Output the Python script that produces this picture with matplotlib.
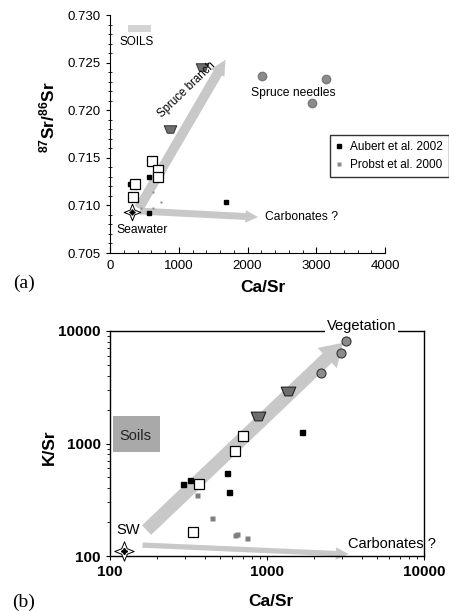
import numpy as np
import matplotlib
matplotlib.use("Agg")
import matplotlib.pyplot as plt
from matplotlib.path import Path
from matplotlib.patches import Rectangle
from matplotlib.ticker import MultipleLocator, FixedLocator, NullFormatter

plt.rcParams['font.family'] = ['Liberation Sans', 'DejaVu Sans']
plt.rcParams['mathtext.fontset'] = 'custom'
plt.rcParams['mathtext.rm'] = 'Liberation Sans'
plt.rcParams['mathtext.bf'] = 'Liberation Sans:bold'

# ---- panel (a) : 87Sr/86Sr vs Ca/Sr ----
a_open_x = [615, 692, 692, 364, 330]
a_open_y = [0.71466, 0.71372, 0.71302, 0.71222, 0.71092]
a_branch_x = [1343, 873]
a_branch_y = [0.72457, 0.71799]
a_needles_x = [2206, 3142, 2943]
a_needles_y = [0.72359, 0.72331, 0.72079]
a_aubert_x = [291, 571, 571, 1692]
a_aubert_y = [0.71222, 0.71302, 0.70917, 0.71036]
a_probst_x = [630, 742, 630, 445]
a_probst_y = [0.71138, 0.71040, 0.70970, 0.70970]
a_sw_x = [323]
a_sw_y = [0.70933]
a_branch_arrow = [(420, 0.7097), (1680, 0.7253)]
a_carb_arrow = [(436, 0.70940), (2153, 0.70877)]

# ---- panel (b) : K/Sr vs Ca/Sr ----
b_open_x = [700, 625, 369, 336]
b_open_y = [1166, 863, 436, 164]
b_branch_x = [1368, 881]
b_branch_y = [2950, 1753]
b_veg_x = [3170, 2945, 2200]
b_veg_y = [8150, 6340, 4260]
b_aubert_x = [290, 325, 558, 573, 1679]
b_aubert_y = [433, 474, 550, 373, 1260]
b_probst_x = [357, 444, 625, 647, 743]
b_probst_y = [348, 216, 154, 157, 146]
b_sw_x = [122]
b_sw_y = [111]
b_veg_arrow = [(171, 170), (3060, 7870)]
b_carb_arrow = [(161, 125), (3300, 104)]

# marker shapes
trap = Path([(-1, 0.6), (1, 0.6), (0.5, -0.6), (-0.5, -0.6), (-1, 0.6)],
            [Path.MOVETO, Path.LINETO, Path.LINETO, Path.LINETO, Path.CLOSEPOLY])
star4 = Path.unit_regular_star(4, 0.4)

ARROW = '#c8c8c8'


def arrow(ax, pts, tw, hw, hl):
    ax.annotate('', xy=pts[1], xytext=pts[0],
                arrowprops=dict(arrowstyle='simple,head_length=%g,head_width=%g,tail_width=%g' % (hl, hw, tw),
                                mutation_scale=1, color=ARROW, lw=0, shrinkA=0, shrinkB=0),
                zorder=1)


fig = plt.figure(figsize=(4.49, 6.11), dpi=100)

# ------------------- (a) -------------------
ax1 = fig.add_axes([110/449, 1-253/611, 275/449, 238/611])
ax1.set_xlim(0, 4000)
ax1.set_ylim(0.705, 0.730)
ax1.spines['top'].set_visible(False)
ax1.spines['right'].set_visible(False)
ax1.xaxis.set_major_locator(MultipleLocator(1000))
ax1.xaxis.set_minor_locator(MultipleLocator(200))
ax1.yaxis.set_major_locator(MultipleLocator(0.005))
ax1.yaxis.set_minor_locator(MultipleLocator(0.001))
ax1.yaxis.set_major_formatter(matplotlib.ticker.FormatStrFormatter('%.3f'))
ax1.tick_params(axis='x', which='both', direction='in', labelsize=9.5, pad=5)
ax1.tick_params(axis='x', which='major', length=4)
ax1.tick_params(axis='x', which='minor', length=2)
ax1.tick_params(axis='y', which='major', direction='out', length=3, labelsize=9.5)
ax1.tick_params(axis='y', which='minor', direction='inout', length=3)

arrow(ax1, a_branch_arrow, 7, 11, 11)
arrow(ax1, a_carb_arrow, 5, 9, 9)

ax1.plot(a_probst_x, a_probst_y, 's', ms=1.6, color='#8a8a8a', mec='none', zorder=3)
ax1.plot(a_aubert_x, a_aubert_y, 's', ms=3.2, color='black', zorder=3)
ax1.plot(a_open_x, a_open_y, 's', ms=7, mfc='white', mec='black', mew=0.9, zorder=4)
ax1.plot(a_branch_x, a_branch_y, marker=trap, ls='none', ms=9, mfc='#6e6e6e', mec='#333333', mew=0.7, zorder=4)
ax1.plot(a_needles_x, a_needles_y, 'o', ms=6, color='#8c8c8c', mec='#7a7a7a', zorder=4)
ax1.plot(a_sw_x, a_sw_y, marker=star4, ls='none', ms=12, mfc='white', mec='black', mew=0.7, zorder=5)
ax1.plot(a_sw_x, a_sw_y, marker=(4, 1, 0), ls='none', ms=4, color='black', zorder=6)

# legend entries
h1, = ax1.plot([], [], 's', ms=3.2, color='black', label='Aubert et al. 2002')
h2, = ax1.plot([], [], 's', ms=3.2, color='#8a8a8a', mec='none', label='Probst et al. 2000')
leg = ax1.legend(handles=[h1, h2], loc='upper left', bbox_to_anchor=(330/449, 1-135/611),
                 bbox_transform=fig.transFigure, fontsize=8.5, fancybox=False, frameon=True,
                 handlelength=0.6, handletextpad=0.6, borderpad=0.5, labelspacing=0.5,
                 borderaxespad=0)
leg.get_frame().set_edgecolor('black')
leg.get_frame().set_linewidth(1.0)

ax1.add_patch(Rectangle((0.065, 0.929), 0.084, 0.029, transform=ax1.transAxes,
                        facecolor='#d4d4d4', edgecolor='none', clip_on=False))
ax1.text(0.098, 0.887, 'SOILS', transform=ax1.transAxes, ha='center', va='center', fontsize=8.5)

ax1.text(1120, 0.7221, 'Spruce branch', rotation=44, ha='center', va='center', fontsize=8.3, zorder=5)
ax1.text(2662, 0.7218, 'Spruce needles', ha='center', va='center', fontsize=8.7)
ax1.text(465, 0.7074, 'Seawater', ha='center', va='center', fontsize=8.7)
ax1.text(2790, 0.7088, 'Carbonates ?', ha='center', va='center', fontsize=8.7)

ax1.set_xlabel('Ca/Sr', fontsize=12.5, fontweight='bold')
ax1.xaxis.set_label_coords(0.556, -0.115)
ax1.set_ylabel(r'$\mathbf{^{87}Sr/^{86}Sr}$', fontsize=12.5, fontweight='bold')
ax1.yaxis.set_label_coords(-0.19, 0.571)
fig.text(24/449, 1-283/611, '(a)', family='Liberation Serif', fontsize=14, ha='center', va='center')

# ------------------- (b) -------------------
ax2 = fig.add_axes([110/449, 1-556/611, 314/449, 225/611])
ax2.set_xscale('log')
ax2.set_yscale('log')
ax2.set_xlim(100, 10000)
ax2.set_ylim(100, 10000)
ax2.xaxis.set_major_locator(FixedLocator([100, 1000, 10000]))
ax2.yaxis.set_major_locator(FixedLocator([100, 1000, 10000]))
ax2.xaxis.set_major_formatter(matplotlib.ticker.FormatStrFormatter('%d'))
ax2.yaxis.set_major_formatter(matplotlib.ticker.FormatStrFormatter('%d'))
ax2.xaxis.set_minor_formatter(NullFormatter())
ax2.yaxis.set_minor_formatter(NullFormatter())
ax2.tick_params(which='both', direction='out', labelsize=11)
ax2.tick_params(which='major', length=3)
ax2.tick_params(which='minor', length=2.5)
for lab in ax2.get_xticklabels() + ax2.get_yticklabels():
    lab.set_fontweight('bold')
for s in ax2.spines.values():
    s.set_linewidth(1.0)

arrow(ax2, b_veg_arrow, 9.5, 20, 16)
arrow(ax2, b_carb_arrow, 3.8, 9, 9)

ax2.plot(b_probst_x, b_probst_y, 's', ms=3.6, color='#7f7f7f', mec='none', zorder=3)
ax2.plot(b_aubert_x, b_aubert_y, 's', ms=3.6, color='black', zorder=3)
ax2.plot(b_open_x, b_open_y, 's', ms=7.5, mfc='white', mec='black', mew=0.9, zorder=4)
ax2.plot(b_branch_x, b_branch_y, marker=trap, ls='none', ms=10.5, mfc='#6e6e6e', mec='#222222', mew=0.8, zorder=4)
ax2.plot(b_veg_x, b_veg_y, 'o', ms=6.5, color='#8c8c8c', mec='#333333', mew=0.8, zorder=4)
ax2.plot(b_sw_x, b_sw_y, marker=star4, ls='none', ms=14, mfc='white', mec='black', mew=0.7, zorder=5, clip_on=False)
ax2.plot(b_sw_x, b_sw_y, marker=(4, 1, 0), ls='none', ms=4.5, color='black', zorder=6, clip_on=False)

ax2.add_patch(Rectangle((0.009, 0.463), 0.15, 0.158, transform=ax2.transAxes,
                        facecolor='#a9a9a9', edgecolor='none', clip_on=False))
ax2.text(144, 1166, 'Soils', ha='center', va='center', fontsize=10.5, color='#222222')
ax2.text(131, 172, 'SW', ha='center', va='center', fontsize=10.5)
ax2.text(6220, 127, 'Carbonates ?', ha='center', va='center', fontsize=10.5)
ax2.text(4010, 11070, 'Vegetation', ha='center', va='center', fontsize=10.5, zorder=6, clip_on=False,
         bbox=dict(facecolor='white', edgecolor='none', pad=1.5))

ax2.set_xlabel('Ca/Sr', fontsize=12.5, fontweight='bold')
ax2.xaxis.set_label_coords(0.513, -0.17)
ax2.set_ylabel('K/Sr', fontsize=12.5, fontweight='bold')
ax2.yaxis.set_label_coords(-0.17, 0.484)
fig.text(24/449, 1-602/611, '(b)', family='Liberation Serif', fontsize=14, ha='center', va='center')

fig.savefig('out.png', dpi=100)
